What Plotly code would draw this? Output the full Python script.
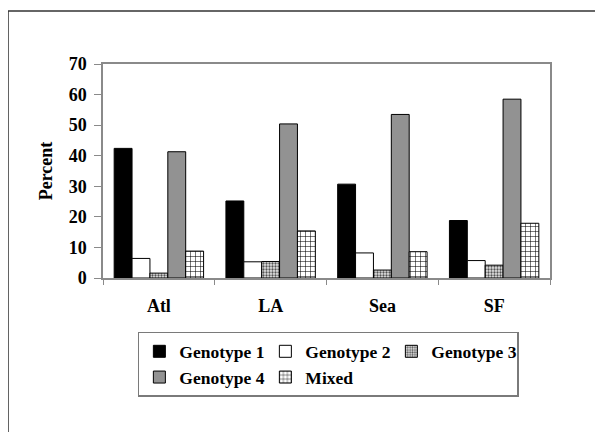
import plotly.graph_objects as go

cities = ["Atl", "LA", "Sea", "SF"]
genotype1 = [42.4, 25.2, 30.7, 18.8]
genotype2 = [6.4, 5.3, 8.2, 5.7]
genotype3 = [1.6, 5.4, 2.6, 4.2]
genotype4 = [41.3, 50.4, 53.5, 58.5]
mixed = [8.8, 15.4, 8.6, 17.9]
series_names = ["Genotype 1", "Genotype 2", "Genotype 3", "Genotype 4", "Mixed"]

FONT = "Liberation Serif, Times New Roman, serif"
AXIS_GRAY = "#8a8a8a"

fig = go.Figure()
fig.add_bar(name=series_names[0], x=cities, y=genotype1,
            marker=dict(color="black", line=dict(color="black", width=1)))
fig.add_bar(name=series_names[1], x=cities, y=genotype2,
            marker=dict(color="white", line=dict(color="black", width=1)))
fig.add_bar(name=series_names[2], x=cities, y=genotype3,
            marker=dict(color="white", line=dict(color="black", width=1),
                        pattern=dict(shape=".", fgcolor="#555555", bgcolor="#e4e4e4",
                                     size=3, solidity=0.45, fillmode="replace")))
fig.add_bar(name=series_names[3], x=cities, y=genotype4,
            marker=dict(color="#929292", line=dict(color="black", width=1)))
fig.add_bar(name=series_names[4], x=cities, y=mixed,
            marker=dict(color="white", line=dict(color="black", width=1),
                        pattern=dict(shape="+", fgcolor="black", bgcolor="white",
                                     size=5, solidity=0.2, fillmode="replace")))

fig.update_layout(
    width=603, height=432,
    margin=dict(l=95, r=61, t=56, b=162),
    paper_bgcolor="white", plot_bgcolor="white",
    barmode="group", bargap=0.2, bargroupgap=0,
    font=dict(family=FONT, color="black", size=18, weight="bold"),
    showlegend=True,
    legend=dict(orientation="h", x=0.078, y=-0.252, xanchor="left", yanchor="top",
                bordercolor="#7a7a7a", borderwidth=1.5, bgcolor="white",
                font=dict(family=FONT, size=17.5, color="black", weight="bold"),
                entrywidth=81, entrywidthmode="pixels",
                itemwidth=30, tracegroupgap=0, traceorder="normal"),
    xaxis=dict(showline=True, linecolor=AXIS_GRAY, linewidth=1.5, mirror=True,
               ticks="outside", tickson="boundaries", ticklen=5, tickcolor=AXIS_GRAY,
               tickfont=dict(family=FONT, size=18, color="black", weight="bold"),
               ticklabelstandoff=11, showgrid=False),
    yaxis=dict(range=[0, 70], dtick=10, showline=True, linecolor=AXIS_GRAY, linewidth=1.5,
               mirror=True, ticks="outside", ticklen=7, tickcolor=AXIS_GRAY,
               tickfont=dict(family=FONT, size=18, color="black", weight="bold"),
               ticklabelstandoff=4, showgrid=False, zeroline=False,
               title=dict(text="Percent",
                          font=dict(family=FONT, size=18, color="black", weight="bold"),
                          standoff=11)),
    shapes=[
        dict(type="line", xref="paper", yref="paper", x0=-0.2125, x1=1.2, y0=1.2477, y1=1.2477,
             line=dict(color="#333333", width=1.5)),
        dict(type="line", xref="paper", yref="paper", x0=-0.2125, x1=-0.2125, y0=1.2477, y1=-0.75,
             line=dict(color="#333333", width=1.5)),
    ],
)

fig.write_html("out.html")
